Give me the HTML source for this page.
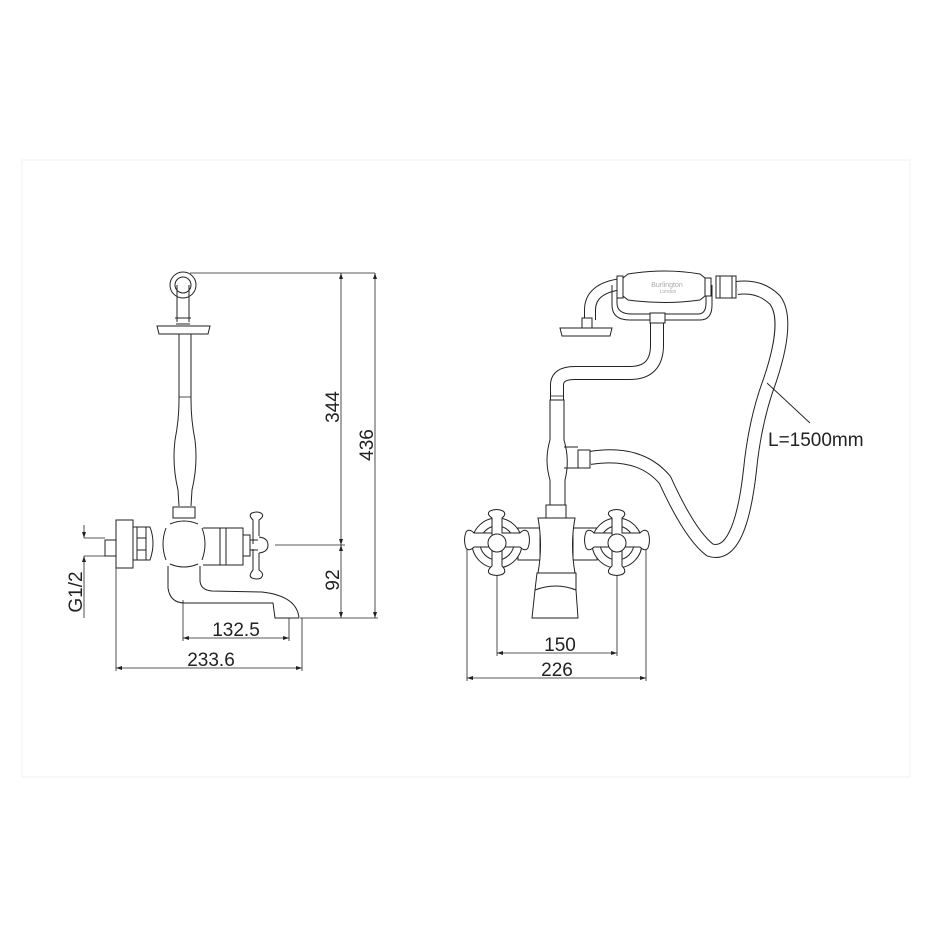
<!DOCTYPE html>
<html><head><style>html,body{margin:0;padding:0;background:#fff}svg{display:block}.l path,.l circle,.l rect,.l line{fill:none}</style></head>
<body>
<svg width="931" height="931" viewBox="0 0 931 931" xmlns="http://www.w3.org/2000/svg" font-family="Liberation Sans, sans-serif">
<rect x="0" y="0" width="931" height="931" fill="#fff"/>
<rect x="22" y="160" width="888" height="617" fill="none" stroke="#f0f0f0" stroke-width="1"/>
<g class="l" fill="none" stroke="#222" stroke-width="1">
<line x1="190" y1="273" x2="375" y2="273" stroke-width="0.8"/>
<line x1="341" y1="273" x2="341" y2="618" stroke-width="0.8"/>
<line x1="375" y1="273" x2="375" y2="618" stroke-width="0.8"/>
<line x1="275" y1="545" x2="345" y2="545" stroke-width="0.8"/>
<line x1="300" y1="618" x2="378" y2="618" stroke-width="0.8"/>
<circle cx="183" cy="285" r="13"/>
<circle cx="183" cy="285" r="8"/>
<path d="M177 285 L177 322 M189 285 L189 322"/>
<path d="M175 318 L191 318 M176 324 L190 324"/>
<path d="M157 326 L210 326 L208 334 L159 334 Z"/>
<path d="M179 334 L179 400 Q179 420 175 440 Q172 465 178 490 L179 506"/>
<path d="M191 334 L191 400 Q191 420 195 440 Q198 465 192 490 L191 506"/>
<line x1="179" y1="397" x2="191" y2="397" stroke-width="0.8"/>
<rect x="173" y="507" width="22" height="11"/>
<path d="M166 528 Q160 544 166 560 M202 528 Q208 544 202 560 M170 524 Q184 518 198 524 M170 564 Q184 570 198 564"/>
<rect x="116" y="520" width="17" height="48"/>
<rect x="105" y="540" width="11" height="16"/>
<path d="M133 527 L150 527 Q156 543 150 560 L133 560 Z"/>
<path d="M137 527 L137 560 M146 527 L146 560 M137 538 L146 538 M137 550 L146 550"/>
<path d="M203 528 L243 528 L243 565 L203 565"/>
<path d="M220 528 L220 565 M226 528 L226 565"/>
<path d="M243 535 L250 535 L250 556 L243 556"/>
<path d="M253 544 L253 520 Q248 515 252 513 Q257 511 261 513 Q265 516 259 520 L259 536"/>
<path d="M253 549 L253 570 Q248 576 252 578 Q257 580 261 578 Q265 574 259 570 L259 553"/>
<path d="M259 537 Q268 538 268 545 Q268 552 259 553"/>
<path d="M250 540 L258 540 M250 550 L258 550"/>
<path d="M200 566 L200 580 Q200 590 212 591 L262 592 Q297 596 299 618"/>
<path d="M168 566 L168 588 Q170 603 185 603 L273 603 L275 618 L299 618"/>
<line x1="84" y1="525" x2="84" y2="538" stroke-width="0.8"/>
<line x1="84" y1="538" x2="105" y2="538" stroke-width="0.8"/>
<line x1="84" y1="556" x2="105" y2="556" stroke-width="0.8"/>
<line x1="84" y1="556" x2="84" y2="618" stroke-width="0.8"/>
<line x1="183" y1="600" x2="183" y2="641" stroke-width="0.8"/>
<line x1="289" y1="618" x2="289" y2="641" stroke-width="0.8"/>
<line x1="183" y1="638" x2="289" y2="638" stroke-width="0.8"/>
<line x1="116" y1="568" x2="116" y2="671" stroke-width="0.8"/>
<line x1="302" y1="618" x2="302" y2="671" stroke-width="0.8"/>
<line x1="116" y1="668" x2="302" y2="668" stroke-width="0.8"/>
<line x1="497" y1="570" x2="497" y2="656" stroke-width="0.8"/>
<line x1="617" y1="570" x2="617" y2="656" stroke-width="0.8"/>
<line x1="497" y1="653" x2="617" y2="653" stroke-width="0.8"/>
<line x1="467" y1="545" x2="467" y2="681" stroke-width="0.8"/>
<line x1="646" y1="545" x2="646" y2="681" stroke-width="0.8"/>
<line x1="467" y1="678" x2="646" y2="678" stroke-width="0.8"/>
</g>
<g fill="none" stroke-linecap="butt">
<path d="M557 400 L557 385 Q557 373 575 373 L630 373 Q657 373 657 345 L657 322" stroke="#222" stroke-width="14"/>
<path d="M557 400 L557 385 Q557 373 575 373 L630 373 Q657 373 657 345 L657 322" stroke="#fff" stroke-width="12"/>
<path d="M590 458 Q640 450 665 480 Q690 535 710 550 Q740 560 750 470 Q755 420 770 380 Q790 320 775 300 Q760 285 737 288" stroke="#222" stroke-width="14"/>
<path d="M590 458 Q640 450 665 480 Q690 535 710 550 Q740 560 750 470 Q755 420 770 380 Q790 320 775 300 Q760 285 737 288" stroke="#fff" stroke-width="12"/>
<path d="M590 320 L590 310 Q590 288 622 284" stroke="#222" stroke-width="12"/>
<path d="M590 320 L590 310 Q590 288 622 284" stroke="#fff" stroke-width="10"/>
</g>
<g fill="#fff" stroke="#222" stroke-width="1">
<path d="M550 400 L564 400 L564 440 Q570 460 565 480 L565 506 L550 506 L550 480 Q544 460 550 440 Z"/>
<line x1="550" y1="396" x2="564" y2="396" stroke-width="0.8"/>
<rect x="578" y="450" width="12" height="18"/>
<path d="M564 447 L578 447 M564 468 L578 468"/>
<path d="M560 328 L612 328 L610 336 L562 336 Z"/>
<rect x="582" y="318" width="10" height="10"/>
<path d="M612 285 L612 305 Q612 320 630 320 L700 320 Q712 320 712 305 L712 285" fill="none"/>
<path d="M617 285 L617 303 Q617 314 632 314 L698 314 Q706 314 706 303 L706 285" fill="none"/>
<rect x="650" y="313" width="15" height="10"/>
<path d="M623 278 L628 274 Q665 268 700 274 L705 278 L705 296 L700 300 Q665 305 628 300 L623 296 Z"/>
<rect x="617" y="276" width="6" height="22"/>
<rect x="705" y="278" width="6" height="18"/>
<rect x="716" y="276" width="20" height="22"/>
<path d="M720 276 L720 298 M732 276 L732 298" fill="none"/>
<rect x="546" y="505" width="20" height="13"/>
<rect x="518" y="528" width="22" height="32"/>
<rect x="573" y="528" width="24" height="32"/>
<path d="M538 518 L575 518 Q570 545 575 573 L538 573 Q543 545 538 518 Z"/>
<path d="M537 573 L576 573 L576 590 L578 618 L532 618 L535 590 Z"/>
<path d="M535 590 Q556 582 576 590" fill="none"/>
<circle cx="497" cy="543" r="25"/>
<circle cx="497" cy="543" r="17"/>
<path d="M492 543 L492 518 Q486 514 490 511 Q497 508 503 511 Q507 514 502 518 L502 533 L520 533 Q525 528 528 532 Q531 540 528 548 Q525 552 520 547 L502 547 L502 566 Q507 571 503 574 Q497 577 490 574 Q486 571 492 566 L492 547 L474 547 Q469 552 466 548 Q463 540 466 532 Q469 528 474 533 L492 533 Z"/>
<circle cx="497" cy="543" r="9"/>
<circle cx="617" cy="543" r="25"/>
<circle cx="617" cy="543" r="17"/>
<path d="M612 543 L612 518 Q606 514 610 511 Q617 508 623 511 Q627 514 622 518 L622 533 L640 533 Q645 528 648 532 Q651 540 648 548 Q645 552 640 547 L622 547 L622 566 Q627 571 623 574 Q617 577 610 574 Q606 571 612 566 L612 547 L594 547 Q589 552 586 548 Q583 540 586 532 Q589 528 594 533 L612 533 Z"/>
<circle cx="617" cy="543" r="9"/>
</g>
<line x1="767" y1="383" x2="810" y2="423" stroke="#222" stroke-width="0.9"/>
<g fill="#222">
<path d="M341 273 l-2 6 h4z M341 545 l-2 -6 h4z M341 545 l-2 6 h4z M341 618 l-2 -6 h4z"/>
<path d="M375 273 l-2 6 h4z M375 618 l-2 -6 h4z"/>
<path d="M84 538 l-2 -6 h4z M84 556 l-2 6 h4z"/>
<path d="M183 638 l6 -2 v4z M289 638 l-6 -2 v4z M116 668 l6 -2 v4z M302 668 l-6 -2 v4z"/>
<path d="M497 653 l6 -2 v4z M617 653 l-6 -2 v4z M467 678 l6 -2 v4z M646 678 l-6 -2 v4z"/>
</g>
<g fill="#222" font-size="19">
<text x="0" y="0" transform="translate(339,407) rotate(-90)" text-anchor="middle">344</text>
<text x="0" y="0" transform="translate(373,445) rotate(-90)" text-anchor="middle">436</text>
<text x="0" y="0" transform="translate(339,580) rotate(-90)" text-anchor="middle">92</text>
<text x="0" y="0" transform="translate(82,592) rotate(-90)" text-anchor="middle">G1/2</text>
<text x="236" y="636" text-anchor="middle">132.5</text>
<text x="211" y="666" text-anchor="middle">233.6</text>
<text x="560" y="651" text-anchor="middle">150</text>
<text x="557" y="676" text-anchor="middle">226</text>
<text x="768" y="446">L=1500mm</text>
</g>
<text x="667" y="287" font-size="7" fill="#aaa" text-anchor="middle">Burlington</text>
<text x="668" y="293" font-size="5" fill="#aaa" text-anchor="middle">London</text>
</svg>
</body></html>
